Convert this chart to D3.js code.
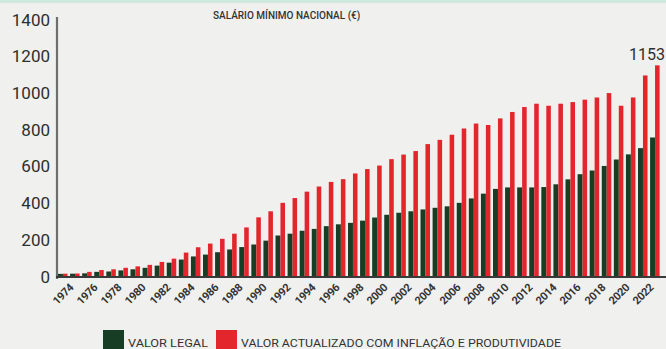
<!DOCTYPE html>
<html>
<head>
<meta charset="utf-8">
<script src="https://cdn.jsdelivr.net/npm/d3@7"></script>
<style>
  body { margin: 0; background: #f0f0ef; }
  #chart { position: relative; width: 666px; height: 349px; overflow: hidden; }
  svg { display: block; }
  .xlab {
    position: absolute;
    font-family: Roboto, sans-serif;
    font-weight: bold;
    font-size: 11px;
    letter-spacing: -0.3px;
    color: #333;
    line-height: 1;
    white-space: nowrap;
    transform-origin: 100% 0;
    transform: translateX(-100%) rotate(-45deg);
  }
</style>
</head>
<body>
<div id="chart"></div>
<script>
// dados
const years = d3.range(1974, 2024);
const valorLegal = [17, 18, 20, 28, 30, 36, 42, 50, 62, 78, 95, 112, 122, 135, 150, 163, 177, 198, 226, 236,
  252, 262, 277, 287, 295, 307, 324, 339, 350, 358, 368, 377, 385, 404, 428, 454, 480, 488, 488, 488,
  490, 505, 532, 560, 580, 605, 640, 668, 702, 760];
const valorActualizado = [18, 19, 28, 38, 42, 50, 58, 66, 82, 100, 133, 162, 182, 208, 236, 270, 325, 358, 404, 430,
  465, 493, 518, 533, 564, 588, 607, 642, 667, 686, 724, 747, 775, 809, 836, 828, 864, 899, 926, 944,
  933, 944, 953, 966, 978, 1002, 933, 978, 1098, 1153];
const yTicks = [0, 200, 400, 600, 800, 1000, 1200, 1400];
const xLabels = years.filter(d => d % 2 === 0);
const series = ['legal', 'actualizado'];
const legendLabels = ['VALOR LEGAL', 'VALOR ACTUALIZADO COM INFLAÇÃO E PRODUTIVIDADE'];
const colors = ['#173d25', '#e3262c'];

const width = 666, height = 349;

let svg = d3.select('#chart')
    .append('svg')
    .attr('width', width)
    .attr('height', height)

svg.append('rect')
    .attr('width', width).attr('height', height)
    .attr('fill', '#f0f0ef')

svg.append('rect')
    .attr('width', width).attr('height', 3)
    .attr('fill', '#cfe8dc')

const x = d3.scaleBand()
    .domain(years)
    .range([58, 660])
    .paddingInner(0.18)
    .paddingOuter(0)
    .align(0)

const xs = d3.scaleBand()
    .domain(series)
    .range([0, x.bandwidth()])

const y = d3.scaleLinear()
    .domain([0, 1400])
    .range([277, 20])

// y axis
const yAxis = svg.append('g')
    .attr('transform', 'translate(57,0)')
    .call(d3.axisLeft(y).tickValues(yTicks).tickFormat(d3.format('d')).tickSize(0).tickPadding(7))

yAxis.select('.domain')
    .attr('stroke', '#6e6e6e')
    .attr('stroke-width', 2.2)
    .attr('d', 'M0,17V279')

yAxis.selectAll('text')
    .attr('font-family', 'Roboto, sans-serif')
    .attr('font-size', 17)
    .attr('fill', '#2e2e2e')
    .attr('dy', '0.3em')

// barras
const groups = svg.append('g')
    .selectAll('g')
    .data(years)
    .enter()
    .append('g')
    .attr('transform', d => 'translate(' + x(d) + ',0)')

groups.append('rect')
    .attr('x', xs('legal'))
    .attr('width', xs.bandwidth())
    .attr('y', (d, i) => y(valorLegal[i]))
    .attr('height', (d, i) => y(0) - y(valorLegal[i]))
    .attr('fill', colors[0])

groups.append('rect')
    .attr('x', xs('actualizado'))
    .attr('width', xs.bandwidth() - 0.4)
    .attr('y', (d, i) => y(valorActualizado[i]))
    .attr('height', (d, i) => y(0) - y(valorActualizado[i]))
    .attr('fill', colors[1])

// x axis
svg.append('path')
    .attr('stroke', '#3a3a3a')
    .attr('stroke-width', 2)
    .attr('d', 'M56,' + y(0) + 'H666')

// rotated year labels as html
d3.select('#chart')
    .selectAll('div.xlab')
    .data(xLabels)
    .enter()
    .append('div')
    .attr('class', 'xlab')
    .style('left', d => (x(d) + x.bandwidth() / 2 + 5) + 'px')
    .style('top', (y(0) + 5) + 'px')
    .text(d => d)

// título
svg.append('text')
    .attr('x', 213)
    .attr('y', 19)
    .attr('font-family', 'Roboto, sans-serif')
    .attr('font-weight', 500)
    .attr('font-size', 10)
    .attr('fill', '#333')
    .text('SALÁRIO MÍNIMO NACIONAL (€)')

// valor final
svg.append('text')
    .attr('x', x(2023) + x.bandwidth() + 5)
    .attr('y', y(valorActualizado[valorActualizado.length - 1]) - 5)
    .attr('text-anchor', 'end')
    .attr('font-family', 'Roboto, sans-serif')
    .attr('font-size', 16)
    .attr('fill', '#2e2e2e')
    .text(valorActualizado[valorActualizado.length - 1])

// legenda
const legendX = [103, 216];
const legend = svg.append('g')
    .selectAll('g')
    .data(legendLabels)
    .enter()
    .append('g')
    .attr('transform', (d, i) => 'translate(' + legendX[i] + ',330)')

legend.append('rect')
    .attr('width', 21)
    .attr('height', 20)
    .attr('fill', (d, i) => colors[i])

legend.append('text')
    .attr('x', 25)
    .attr('y', 17)
    .attr('font-family', 'Roboto, sans-serif')
    .attr('font-size', 11)
    .attr('fill', '#333')
    .attr('textLength', (d, i) => i === 0 ? 80 : 320)
    .attr('lengthAdjust', 'spacingAndGlyphs')
    .text(d => d)
</script>
</body>
</html>
